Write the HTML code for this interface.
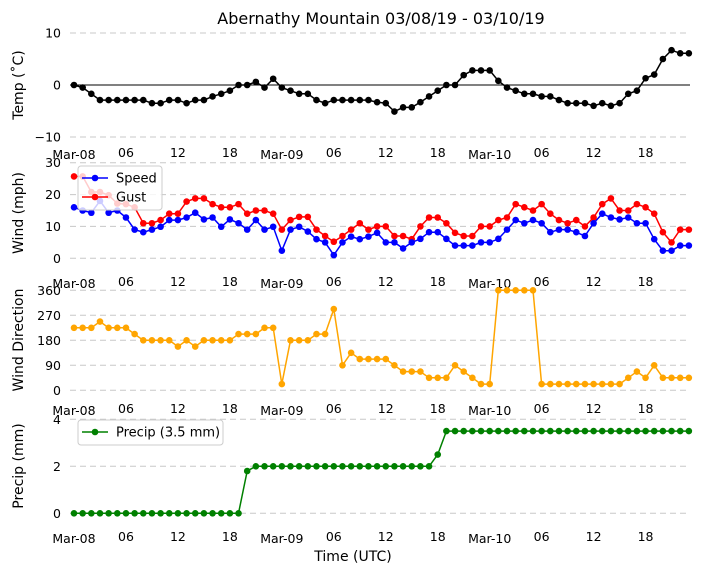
<!DOCTYPE html>
<html><head><meta charset="utf-8"><style>
html,body{margin:0;padding:0;background:#fff;}
svg{display:block;font-family:"DejaVu Sans","Liberation Sans",sans-serif;}
</style></head><body>
<svg id="chart" width="704" height="573" viewBox="0 0 704 573">
<text x="381" y="24" text-anchor="middle" font-size="16">Abernathy Mountain 03/08/19 - 03/10/19</text>
<text x="353" y="561" text-anchor="middle" font-size="14">Time (UTC)</text>
</svg>
<script>
const hours = Array.from({length:72},(_,i)=>i);
const temp = [0,-0.5,-1.7,-2.9,-2.9,-2.9,-2.9,-2.9,-2.9,-3.5,-3.5,-2.9,-2.9,-3.5,-2.9,-2.9,-2.2,-1.7,-1.1,0,0,0.6,-0.5,1.2,-0.5,-1.1,-1.7,-1.7,-2.9,-3.5,-2.9,-2.9,-2.9,-2.9,-2.9,-3.3,-3.5,-5.1,-4.3,-4.3,-3.3,-2.2,-1.1,0,0,1.9,2.8,2.8,2.8,0.8,-0.5,-1.1,-1.7,-1.7,-2.2,-2.2,-2.9,-3.5,-3.5,-3.5,-4,-3.5,-4,-3.5,-1.7,-1.1,1.3,2,5,6.7,6.1,6.1];
const speed = [16,15,14.3,18,14.3,15,12.8,9,8.2,9,9.9,12,12,12.8,14.3,12.2,12.8,9.9,12.2,11,9,12,9,9.9,2.4,9,9.9,8.4,6,5,1,5,6.8,6,6.8,8,5,5,3.1,5,6.1,8.2,8.2,6.1,4,4,4,5,5,6.1,9,12,11,12,11,8.2,9,9,8.2,7,11,14,12.8,12.2,12.8,11,11,6,2.4,2.4,4,4];
const gust = [25.7,25.7,20.8,20.8,19.8,17.2,17,16,11,11,12,14,14,17.8,18.8,18.8,17,16,16,17,14,15,15,14,9,12,13,13,9,7,5.2,7,9,11,9,10,10,7,7,6,10,12.8,12.8,11,8,7,7,10,10,12,12.8,17,16,15,17,14,12,11,12,10,12.8,17,18.8,15,15,17,16,14,8.2,5,9,9];
const direction = [225,225,225,247.5,225,225,225,202.5,180,180,180,180,157.5,180,157.5,180,180,180,180,202.5,202.5,202.5,225,225,22.5,180,180,180,202.5,202.5,292.5,90,135,112.5,112.5,112.5,112.5,90,67.5,67.5,67.5,45,45,45,90,67.5,45,22.5,22.5,360,360,360,360,360,22.5,22.5,22.5,22.5,22.5,22.5,22.5,22.5,22.5,22.5,45,67.5,45,90,45,45,45,45];
const precip = [0,0,0,0,0,0,0,0,0,0,0,0,0,0,0,0,0,0,0,0,1.8,2,2,2,2,2,2,2,2,2,2,2,2,2,2,2,2,2,2,2,2,2,2.5,3.5,3.5,3.5,3.5,3.5,3.5,3.5,3.5,3.5,3.5,3.5,3.5,3.5,3.5,3.5,3.5,3.5,3.5,3.5,3.5,3.5,3.5,3.5,3.5,3.5,3.5,3.5,3.5,3.5];
const xTickHours = [0,6,12,18,24,30,36,42,48,54,60,66];
const xTickLabels = ["Mar-08","06","12","18","Mar-09","06","12","18","Mar-10","06","12","18"];
const tempTicks = [-10,0,10];
const windTicks = [0,10,20,30];
const dirTicks = [0,90,180,270,360];
const precipTicks = [0,2,4];

const NS="http://www.w3.org/2000/svg";
const svg=document.getElementById('chart');
const X0=74, XS=8.66, GL=70, GR=690;
function x(h){return X0+h*XS;}
function mk(tag,attrs,parent){const e=document.createElementNS(NS,tag);for(const k in attrs)e.setAttribute(k,attrs[k]);(parent||svg).appendChild(e);return e;}

const panels=[
 {name:'temp',min:-10,max:10,top:33,bot:137,ticks:tempTicks,label:'Temp (˚C)',labY:85,xlabY:157,zero:true},
 {name:'wind',min:0,max:30,top:162.7,bot:258.3,ticks:windTicks,label:'Wind (mph)',labY:213,xlabY:286},
 {name:'direction',min:0,max:360,top:290.3,bot:390.3,ticks:dirTicks,label:'Wind Direction',labY:340,xlabY:413},
 {name:'precip',min:0,max:4,top:419.3,bot:513.3,ticks:precipTicks,label:'Precip (mm)',labY:466,xlabY:541}
];
panels.forEach(p=>{p.y=v=>p.bot-(v-p.min)/(p.max-p.min)*(p.bot-p.top);});

panels.forEach(p=>{
 const g=mk('g',{});
 
 
 p.ticks.forEach(t=>{
  if(!(p.zero&&t===0)){
   const l=mk('line',{x1:GL,x2:GR,y1:p.y(t),y2:p.y(t),stroke:'#c8c8c8','stroke-width':1,'stroke-dasharray':'6,4'},g);
   
   
  }
  const tx=mk('text',{x:61,y:p.y(t)+4.5,'text-anchor':'end','font-size':12.5},g);
  
  
  tx.textContent=String(t).replace('-','\u2212');
 });
 if(p.zero){
  const z=mk('line',{x1:GL,x2:GR,y1:p.y(0),y2:p.y(0),stroke:'#000','stroke-width':1},g);
  
  
 }
 xTickHours.forEach((h,i)=>{
  const major=xTickLabels[i].startsWith('Mar');
  const tx=mk('text',{x:x(h),y:p.xlabY+(major?2:0),'text-anchor':'middle','font-size':12.5},g);
  
  
  tx.textContent=xTickLabels[i];
 });
 const yl=mk('text',{x:0,y:0,'text-anchor':'middle','font-size':14,transform:`translate(23,${p.labY}) rotate(-90)`},g);
 
 
 yl.textContent=p.label;
});

function series(p,vals,color,name){
 const g=mk('g',{});
 
 
 const pts=vals.map((v,i)=>x(hours[i]).toFixed(1)+','+p.y(v).toFixed(1)).join(' ');
 const pl=mk('polyline',{points:pts,fill:'none',stroke:color,'stroke-width':1.5},g);
 
 
 vals.forEach((v,i)=>{
  const c=mk('circle',{cx:x(hours[i]),cy:p.y(v),r:3.3,fill:color},g);
  
  
 });
}
series(panels[0],temp,'#000','temp');
series(panels[1],gust,'#ff0000','gust');
series(panels[1],speed,'#0000ff','speed');
series(panels[2],direction,'#ffa500','direction');
series(panels[3],precip,'#008000','precip');

function legend(name,bx,by,bw,entries){
 const g=mk('g',{});
 
 
 const r=mk('rect',{x:bx,y:by,width:bw,height:entries.length*19+6,rx:3,fill:'#fff','fill-opacity':0.8,stroke:'#ccc'},g);
 
 
 entries.forEach((e,i)=>{
  const yy=by+12+i*19;
  const l=mk('line',{x1:bx+4,x2:bx+30,y1:yy,y2:yy,stroke:e.c,'stroke-width':1.5},g);
  
  
  const c=mk('circle',{cx:bx+17,cy:yy,r:3.3,fill:e.c},g);
  
  
  const t=mk('text',{x:bx+38,y:yy+4.5,'font-size':13},g);
  
  
  t.textContent=e.t;
 });
}
legend('wind-legend',78,166,84,[{t:'Speed',c:'#0000ff'},{t:'Gust',c:'#ff0000'}]);
legend('precip-legend',78,420,145,[{t:'Precip (3.5 mm)',c:'#008000'}]);
</script>
</body></html>
